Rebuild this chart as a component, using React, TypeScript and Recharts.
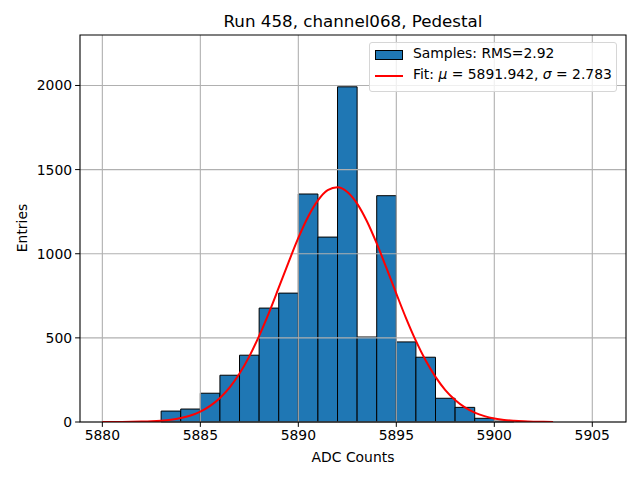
import React from "react";
import { ComposedChart, Line, XAxis, YAxis, ReferenceArea, ReferenceLine } from "recharts";

// histogram bins (left edges, width 1 ADC count) and entries
const binStarts = [5883, 5884, 5885, 5886, 5887, 5888, 5889, 5890, 5891, 5892, 5893, 5894, 5895, 5896, 5897, 5898, 5899, 5900];
const binCounts = [65, 77, 171, 278, 397, 677, 766, 1355, 1099, 1992, 505, 1345, 476, 385, 141, 87, 22, 5];

// fitted curve, every 0.5 counts
const fitX = [
  5880, 5880.5, 5881, 5881.5, 5882, 5882.5, 5883, 5883.5, 5884, 5884.5, 5885, 5885.5, 5886, 5886.5, 5887, 5887.5,
  5888, 5888.5, 5889, 5889.5, 5890, 5890.5, 5891, 5891.5, 5892, 5892.5, 5893, 5893.5, 5894, 5894.5, 5895, 5895.5,
  5896, 5896.5, 5897, 5897.5, 5898, 5898.5, 5899, 5899.5, 5900, 5900.5, 5901, 5901.5, 5902, 5902.5, 5903,
];
const fitY = [
  0.1, 0.3, 0.6, 1.2, 2.4, 4.4, 8, 14, 24, 39, 62, 96, 143, 206, 288, 390,
  512, 649, 798, 949, 1094, 1220, 1317, 1378, 1395, 1367, 1298, 1193, 1061, 914, 763, 616,
  482, 365, 268, 190, 131, 87, 56, 35, 21, 12, 7, 3.8, 2, 1, 0.5,
];

const xTicks = [5880, 5885, 5890, 5895, 5900, 5905];
const yTicks = [0, 500, 1000, 1500, 2000];

const X_MIN = 5878.86;
const X_MAX = 5906.72;
const Y_MAX = 2300;

const FONT = "'DejaVu Sans', sans-serif";
const GRID = "#b0b0b0";

const fitData = fitX.map((x, i) => ({ x, fit: fitY[i] }));

export default function App() {
  return (
    <div style={{ position: "absolute", left: 0, top: 0, width: 640, height: 480, background: "#fff", fontFamily: FONT }}>
      <ComposedChart width={640} height={480} data={fitData} margin={{ top: 35, right: 14, bottom: 28, left: 0 }}>
        <XAxis
          dataKey="x"
          type="number"
          domain={[X_MIN, X_MAX]}
          ticks={xTicks}
          allowDataOverflow
          height={30}
          tick={{ fontSize: 13.9, fill: "#000", fontFamily: FONT }}
          tickSize={4.9}
          tickMargin={3}
          stroke="#000"
          tickLine={{ stroke: "#000" }}
          axisLine={false}
        />
        <YAxis
          type="number"
          domain={[0, Y_MAX]}
          ticks={yTicks}
          allowDataOverflow
          width={80}
          tick={{ fontSize: 13.9, fill: "#000", fontFamily: FONT }}
          tickSize={4.9}
          tickMargin={3}
          stroke="#000"
          tickLine={{ stroke: "#000" }}
          axisLine={false}
        />
        {binStarts.map((b, i) => (
          <ReferenceArea
            key={"bin" + b}
            x1={b}
            x2={b + 1}
            y1={0}
            y2={binCounts[i]}
            fill="#1f77b4"
            fillOpacity={1}
            stroke="#000"
            strokeWidth={1}
            ifOverflow="visible"
            zIndex={300}
          />
        ))}
        {xTicks.map((t) => (
          <ReferenceLine key={"gx" + t} x={t} stroke={GRID} strokeWidth={1.1} zIndex={350} />
        ))}
        {yTicks.map((t) => (
          <ReferenceLine key={"gy" + t} y={t} stroke={GRID} strokeWidth={1.1} zIndex={350} />
        ))}
        <Line
          type="monotone"
          dataKey="fit"
          stroke="#ff0000"
          strokeWidth={2}
          dot={false}
          activeDot={false}
          isAnimationActive={false}
          zIndex={400}
        />
        <ReferenceArea
          x1={X_MIN}
          x2={X_MAX}
          y1={0}
          y2={Y_MAX}
          fill="none"
          stroke="#000"
          strokeWidth={1.1}
          ifOverflow="visible"
          zIndex={450}
        />
      </ComposedChart>

      <div style={{ position: "absolute", left: 0, width: 706, top: 11, textAlign: "center", fontSize: 16.7, color: "#000", whiteSpace: "nowrap" }}>
        Run 458, channel068, Pedestal
      </div>
      <div style={{ position: "absolute", left: 80, width: 546, top: 449, textAlign: "center", fontSize: 13.9, color: "#000" }}>
        ADC Counts
      </div>
      <div
        style={{
          position: "absolute",
          left: 22,
          top: 228,
          fontSize: 13.9,
          color: "#000",
          transform: "translate(-50%, -50%) rotate(-90deg)",
          whiteSpace: "nowrap",
        }}
      >
        Entries
      </div>

      <div
        style={{
          position: "absolute",
          left: 369,
          top: 42,
          width: 248,
          height: 50,
          boxSizing: "border-box",
          border: "1px solid #d6d6d6",
          borderRadius: 3,
          background: "rgba(255,255,255,0.8)",
          fontSize: 13.9,
          color: "#000",
          zIndex: 5,
        }}
      >
        <div style={{ position: "absolute", left: 5, top: 7, width: 28, height: 10, boxSizing: "border-box", background: "#1f77b4", border: "1px solid #000" }} />
        <div style={{ position: "absolute", left: 43, top: 2, whiteSpace: "nowrap" }}>Samples: RMS=2.92</div>
        <div style={{ position: "absolute", left: 5, top: 32, width: 28, height: 2, background: "#ff0000" }} />
        <div style={{ position: "absolute", left: 43, top: 23, whiteSpace: "nowrap" }}>
          Fit: <i>μ</i> = 5891.942, <i>σ</i> = 2.783
        </div>
      </div>
    </div>
  );
}
